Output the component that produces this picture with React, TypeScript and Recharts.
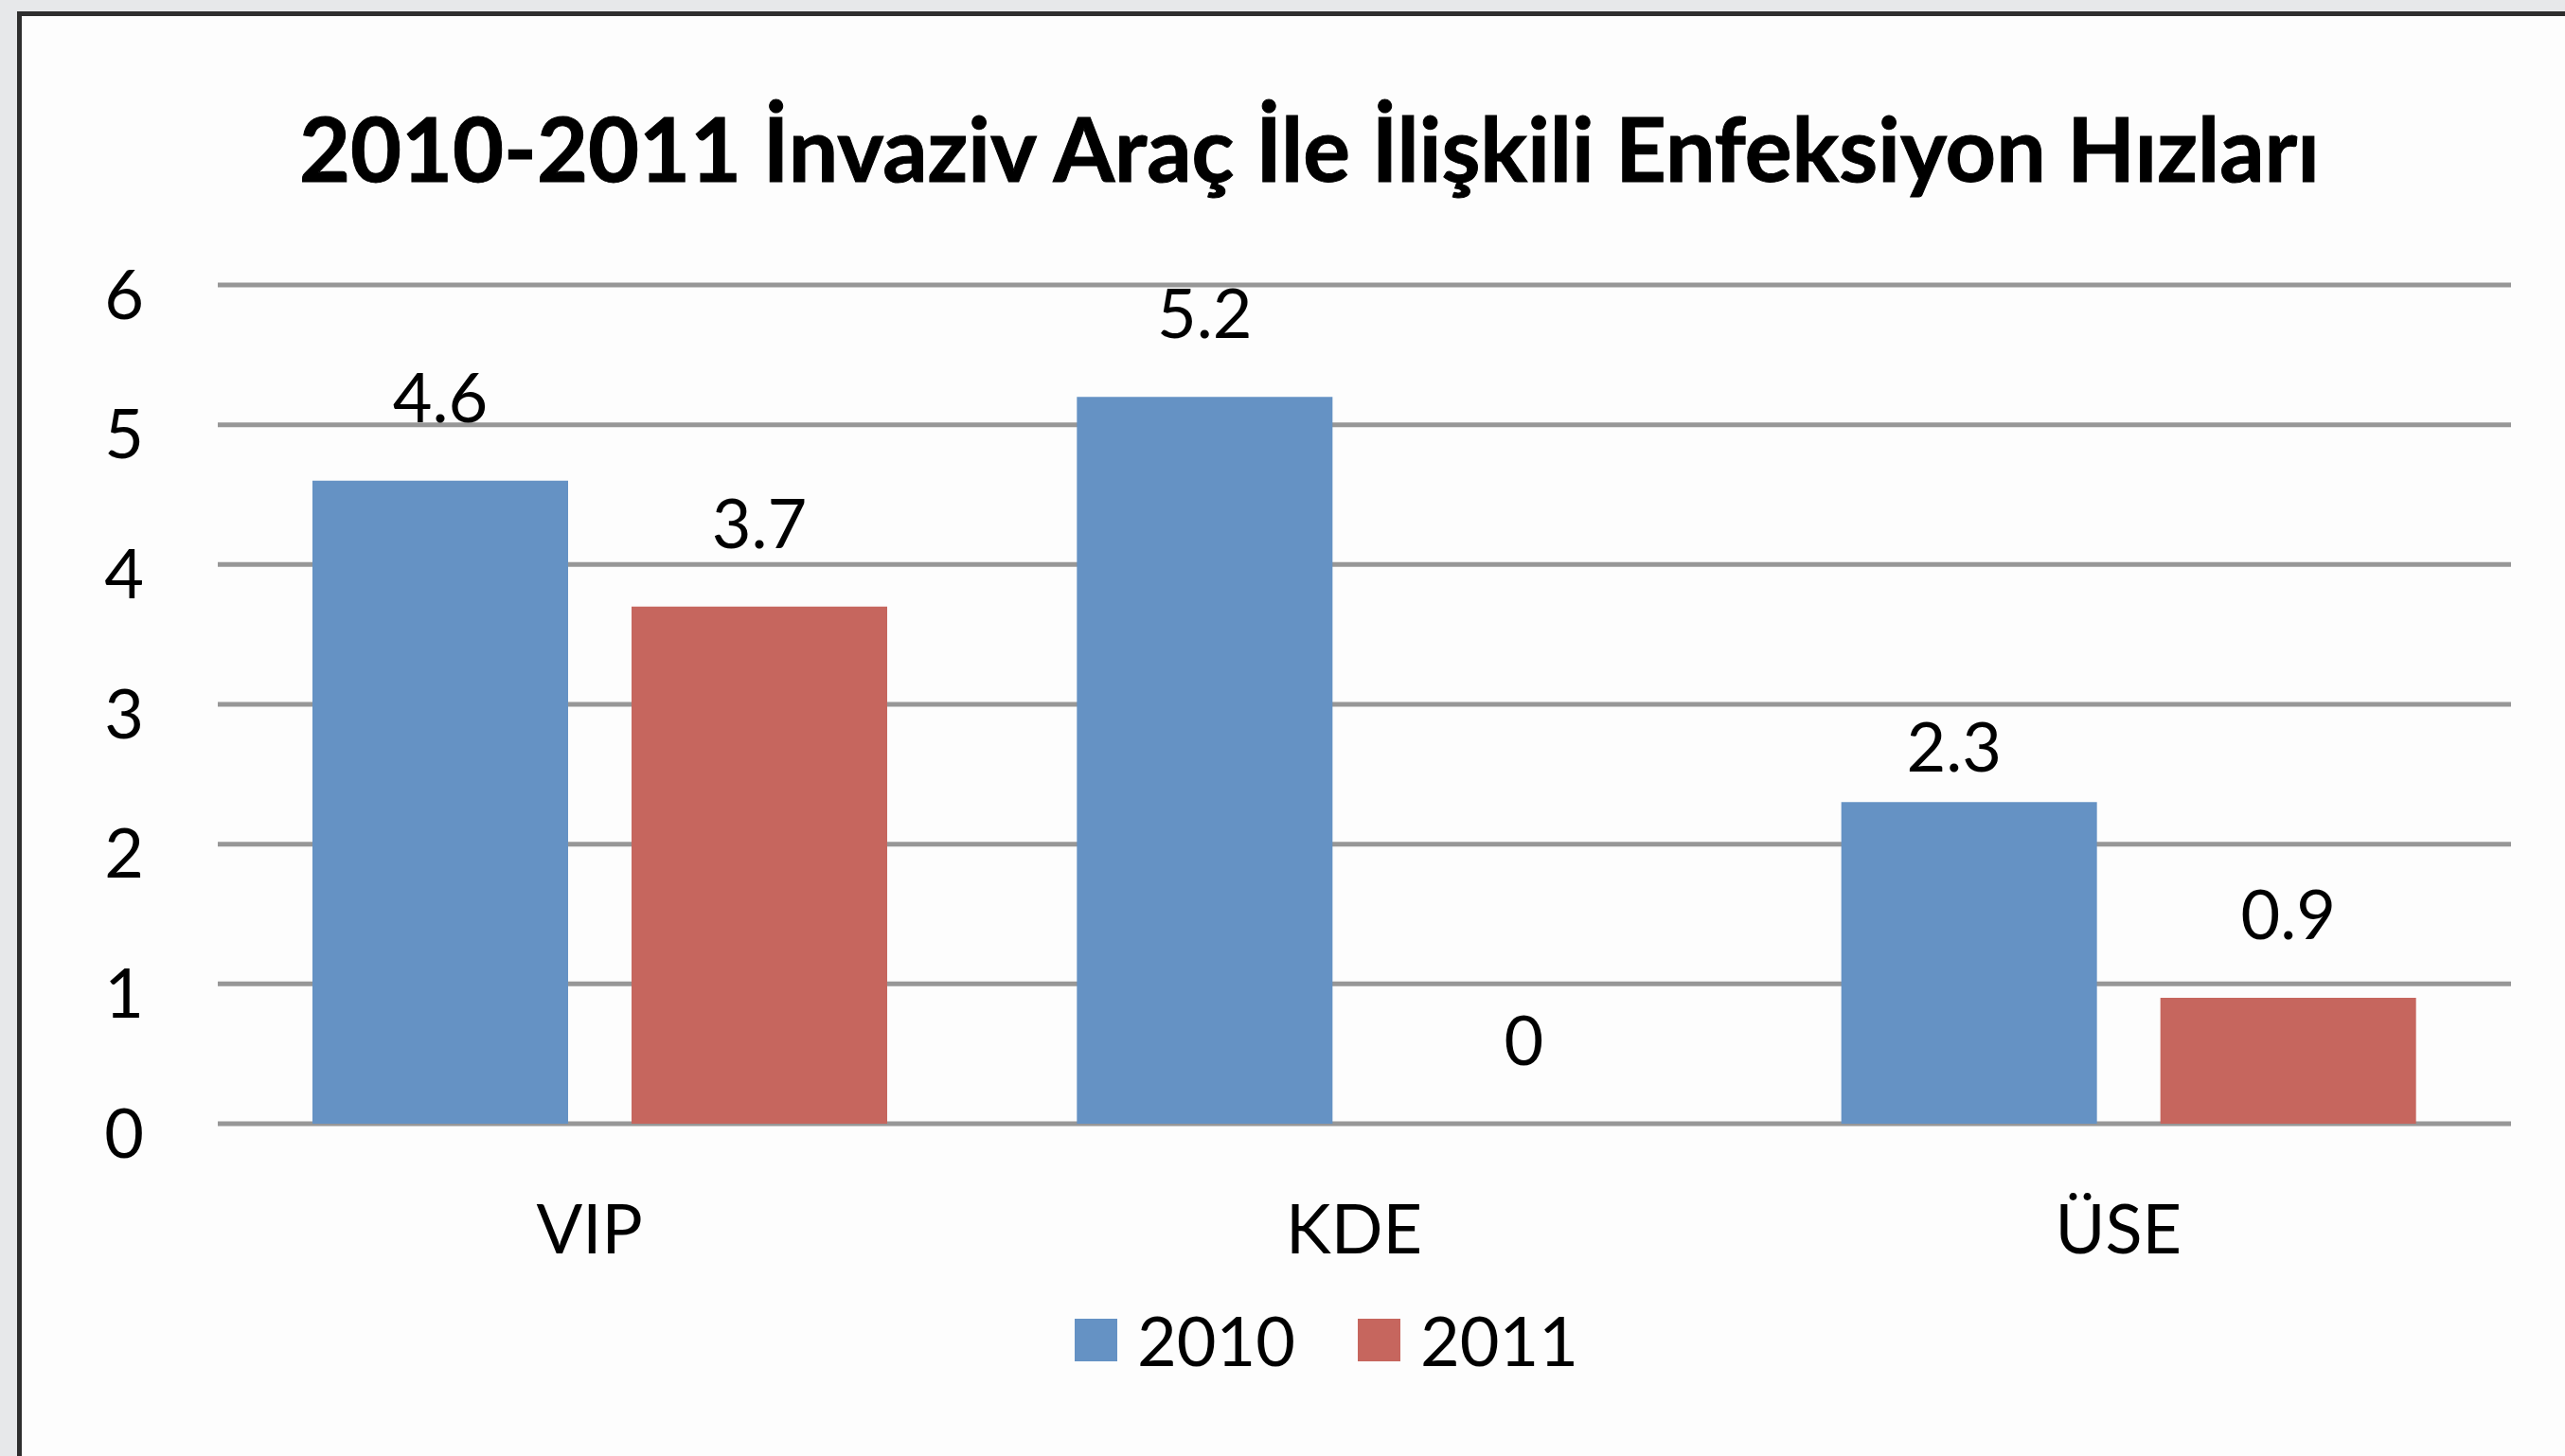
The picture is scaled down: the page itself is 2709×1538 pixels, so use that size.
import { BarChart, Bar, XAxis, YAxis, CartesianGrid, Legend, LabelList } from "recharts"

const categories = ["VIP", "KDE", "ÜSE"]
const rates2010 = [4.6, 5.2, 2.3]
const rates2011 = [3.7, 0, 0.9]
const yTicks = [0, 1, 2, 3, 4, 5, 6]
const seriesNames = ["2010", "2011"]

const BLUE = "#6592C4"
const RED = "#C6665E"
const FONT = "Lato, 'Open Sans', sans-serif"

const chartData = categories.map((name, i) => ({
  name,
  y2010: rates2010[i],
  y2011: rates2011[i],
}))

// value label above each bar; the ÜSE 2010 label sits a bit lower in the original
const makeLabel = (lowIndex: number | null) => (props: any) => {
  const { x, y, width, value, index } = props
  const off = index === lowIndex ? 32 : 62
  return (
    <text
      x={x + width / 2 - (index === lowIndex ? 16 : 0)}
      y={y - off}
      textAnchor="middle"
      style={{ fontFamily: FONT, fontSize: 72, fill: "#000" }}
    >
      {value}
    </text>
  )
}

function LegendBox({ payload }: any) {
  return (
    <div style={{ display: "flex", alignItems: "center", height: 60, fontFamily: FONT, fontSize: 72, color: "#000" }}>
      {(payload || []).map((entry: any, i: number) => (
        <div key={entry.value} style={{ display: "flex", alignItems: "center", marginLeft: i === 0 ? 0 : 66 }}>
          <div style={{ width: 45, height: 45, background: entry.color, marginRight: 21 }} />
          <span style={{ lineHeight: "60px" }}>{entry.value}</span>
        </div>
      ))}
    </div>
  )
}

export default function App() {
  return (
    <div style={{ position: "absolute", left: 0, top: 0, width: 2709, height: 1538, background: "#E7E8EA", overflow: "hidden" }}>
      {/* white panel, cut off at right and bottom */}
      <div
        style={{
          position: "absolute",
          left: 18,
          top: 12,
          right: -10,
          bottom: -10,
          background: "#FDFDFD",
          borderLeft: "5px solid #2E2E2E",
          borderTop: "5px solid #2E2E2E",
        }}
      />
      <div
        style={{
          position: "absolute",
          left: 0,
          top: 101,
          width: 2766,
          textAlign: "center",
          fontFamily: FONT,
          fontWeight: 700,
          fontSize: 93.2,
          lineHeight: 1.2,
          color: "#000",
          whiteSpace: "nowrap",
          WebkitTextStroke: "1px #000",
        }}
      >
        2010-2011 İnvaziv Araç İle İlişkili Enfeksiyon Hızları
      </div>
      <div style={{ position: "absolute", left: 0, top: 0 }}>
        <BarChart
          width={2709}
          height={1538}
          data={chartData}
          margin={{ top: 301, right: 57, bottom: 201, left: 0 }}
          barCategoryGap={100}
          barGap={67}
        >
          <CartesianGrid vertical={false} stroke="#979797" strokeWidth={5} />
          <XAxis
            dataKey="name"
            height={150}
            axisLine={false}
            tickLine={false}
            tickSize={0}
            tickMargin={86}
            tick={{ fontFamily: FONT, fontSize: 72, fill: "#000", dx: -11 }}
          />
          <YAxis
            width={230}
            domain={[0, 6]}
            ticks={yTicks}
            axisLine={false}
            tickLine={false}
            tickSize={0}
            tickMargin={78}
            tick={{ fontFamily: FONT, fontSize: 72, fill: "#000", dy: 10 }}
          />
          <Legend
            layout="horizontal"
            verticalAlign="middle"
            align="center"
            content={<LegendBox />}
            wrapperStyle={{ left: 1135, top: 1385, width: "auto", height: 60 }}
          />
          <Bar dataKey="y2010" name={seriesNames[0]} fill={BLUE} isAnimationActive={false}>
            <LabelList dataKey="y2010" content={makeLabel(2)} />
          </Bar>
          <Bar
            dataKey="y2011"
            name={seriesNames[1]}
            fill={RED}
            isAnimationActive={false}
            minPointSize={(v: number) => (v === 0 ? 0.01 : 0)}
          >
            <LabelList dataKey="y2011" content={makeLabel(null)} />
          </Bar>
        </BarChart>
      </div>
    </div>
  )
}
